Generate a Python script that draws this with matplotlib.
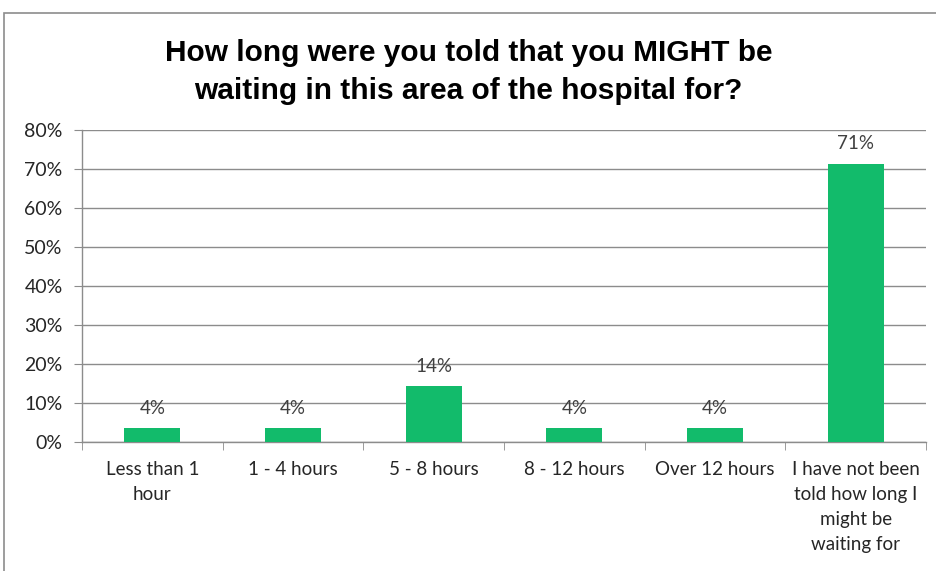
import matplotlib
matplotlib.use("Agg")
import matplotlib.pyplot as plt
from matplotlib.patches import Rectangle
from matplotlib.ticker import FixedLocator

categories = ["Less than 1\nhour", "1 - 4 hours", "5 - 8 hours", "8 - 12 hours",
              "Over 12 hours", "I have not been\ntold how long I\nmight be\nwaiting for"]
values = [3.6, 3.6, 14.3, 3.6, 3.6, 71.4]
labels = ["4%", "4%", "14%", "4%", "4%", "71%"]
yticks = [0, 10, 20, 30, 40, 50, 60, 70, 80]
title = "How long were you told that you MIGHT be\nwaiting in this area of the hospital for?"

W, H = 937, 571
fig = plt.figure(figsize=(W / 100, H / 100), dpi=100)
fig.patch.set_facecolor("white")

# outer chart border
fig.patches.append(Rectangle((4 / W, -0.1), 1.2, (H - 13) / H + 0.1, transform=fig.transFigure,
                             fill=False, edgecolor="#8c8c8c", linewidth=1.2))

left, right, top, bottom = 82, 926, 130, 442
ax = fig.add_axes([left / W, 1 - bottom / H, (right - left) / W, (bottom - top) / H])

FS = 13.5
x = range(len(categories))
ax.bar(x, values, width=0.4, color="#12bb6b", zorder=3)
for xi, v, lab in zip(x, values, labels):
    ax.text(xi, v + 2.9, lab, ha="center", va="bottom", fontsize=FS, color="#404040",
            family="Lato")

ax.set_xlim(-0.5, len(categories) - 0.5)
ax.set_ylim(0, 80)
ax.set_yticks(yticks)
ax.set_yticklabels([f"{t}%" for t in yticks], fontsize=FS + 0.5, color="#262626", family="Lato")
ax.yaxis.grid(True, color="#8c8c8c", linewidth=1.0, zorder=0)
ax.set_axisbelow(True)

ax.set_xticks(list(x))
ax.set_xticklabels(categories, fontsize=FS, color="#262626", family="Lato", linespacing=1.55)
ax.tick_params(axis="x", length=0, pad=14)
ax.xaxis.set_minor_locator(FixedLocator([i - 0.5 for i in range(len(categories) + 1)]))
ax.tick_params(axis="x", which="minor", length=6, color="#8c8c8c", direction="out")
ax.tick_params(axis="y", length=6, color="#8c8c8c", direction="out", pad=8)

for s in ["top", "right"]:
    ax.spines[s].set_visible(False)
for s in ["left", "bottom"]:
    ax.spines[s].set_color("#8c8c8c")
    ax.spines[s].set_linewidth(1.0)

fig.text(0.5, 1 - 72 / H, title, ha="center", va="center", fontsize=21.5, fontweight="bold",
         family="Liberation Sans", color="black", linespacing=1.45)

fig.savefig("out.png", dpi=100, facecolor="white")
